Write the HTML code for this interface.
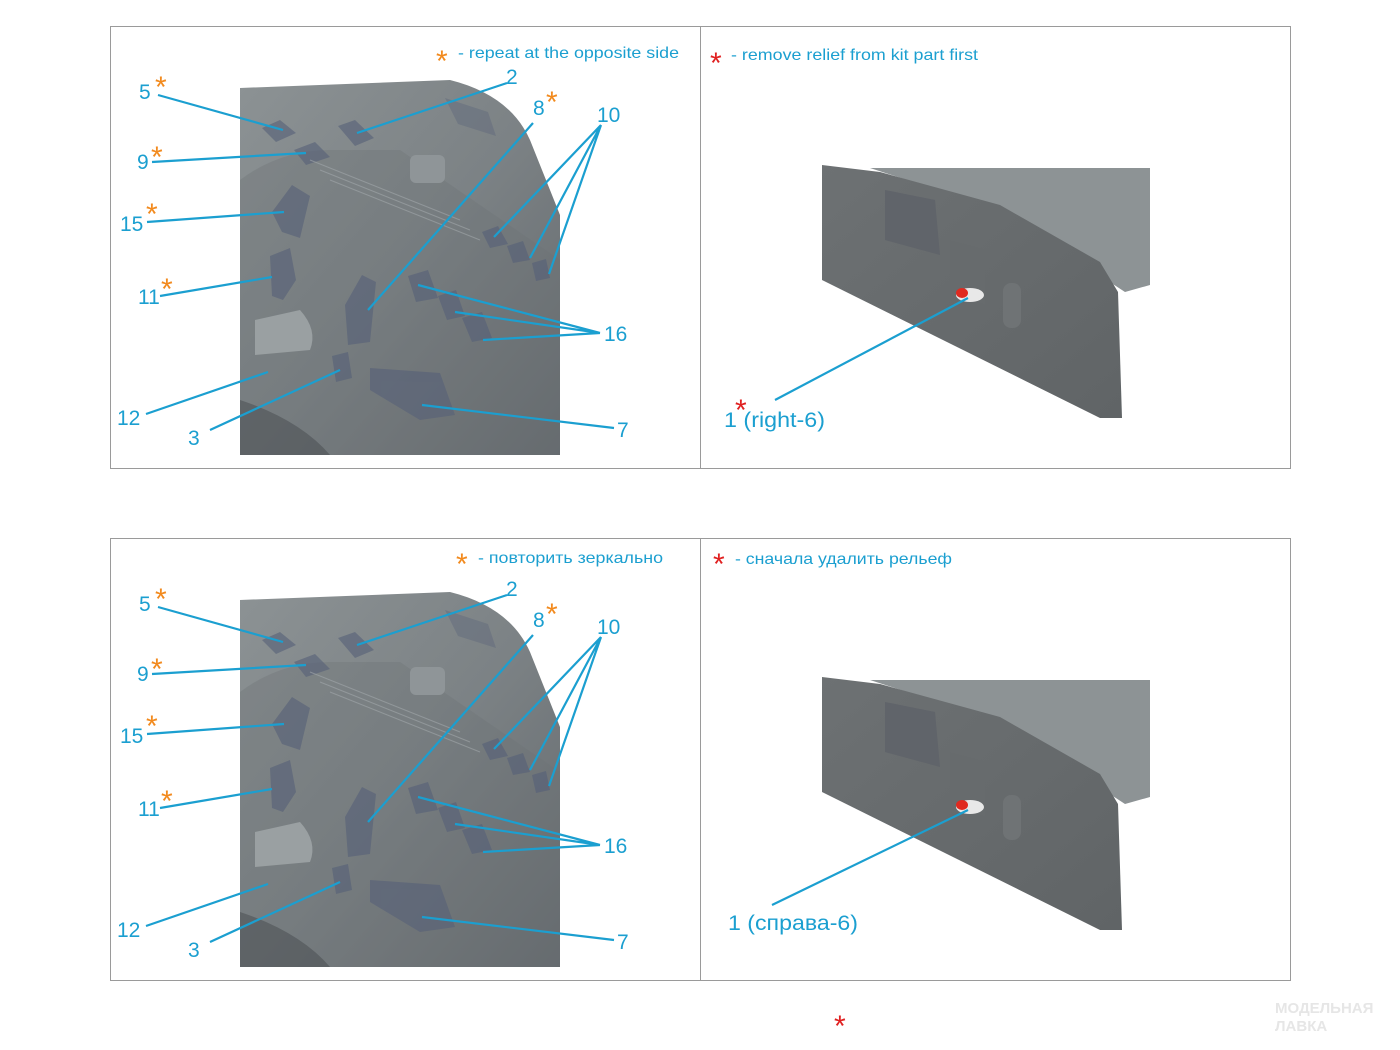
<!DOCTYPE html>
<html><head><meta charset="utf-8"><style>
html,body{margin:0;padding:0;background:#fff;}
svg{display:block;}
text{font-family:"Liberation Sans","DejaVu Sans",sans-serif;}
.n{fill:#1b9fd0;font-size:21px;}
.s{fill:#1b9fd0;font-size:16px;}
.o{fill:#f28a1e;font-size:30px;}
.r{fill:#e02020;font-size:30px;}
.l{stroke:#1b9fd0;stroke-width:2.2;fill:none;}
</style></head><body>
<svg width="1400" height="1050" viewBox="0 0 1400 1050" xmlns="http://www.w3.org/2000/svg">
<defs>
<linearGradient id="gl" x1="0" y1="0" x2="1" y2="1">
<stop offset="0" stop-color="#8c9294"/><stop offset="0.5" stop-color="#7c8285"/><stop offset="1" stop-color="#63686c"/>
</linearGradient>
<linearGradient id="gr" x1="0" y1="0" x2="1" y2="1">
<stop offset="0" stop-color="#6d7173"/><stop offset="1" stop-color="#606466"/>
</linearGradient>
<g id="pl">
<path d="M240,88 L450,80 Q510,95 530,140 Q550,190 560,215 L560,455 L240,455 Z" fill="url(#gl)"/>
<path d="M240,180 Q280,150 330,150 L400,150 L560,260 L560,455 L240,455Z" fill="#6c7275" opacity="0.35"/>
<path d="M240,400 Q300,420 330,455 L240,455Z" fill="#454a4e" opacity="0.5"/>
<path d="M255,320 L300,310 Q318,330 310,350 L255,355 Z" fill="#9aa0a2"/>
<rect x="410" y="155" width="35" height="28" rx="6" fill="#8f9598"/>
<g fill="#566078" opacity="0.6">
<path d="M262,128 L280,120 L296,133 L276,142Z"/>
<path d="M338,126 L355,120 L374,138 L355,146Z"/>
<path d="M294,150 L315,142 L330,157 L306,165Z"/>
<path d="M272,212 L292,185 L310,196 L300,238 L282,232Z"/>
<path d="M270,256 L290,248 L296,280 L283,300 L272,296Z"/>
<path d="M345,305 L362,275 L376,282 L370,342 L348,345Z"/>
<path d="M482,232 L498,226 L508,244 L490,248Z"/>
<path d="M507,246 L523,241 L530,260 L513,263Z"/>
<path d="M532,263 L546,259 L550,278 L536,281Z"/>
<path d="M370,368 L440,373 L455,415 L420,420 L370,390Z"/>
<path d="M332,356 L348,352 L352,378 L336,382Z"/>
<path d="M408,276 L428,270 L438,298 L416,302Z"/>
<path d="M438,296 L456,290 L465,316 L447,320Z"/>
<path d="M462,318 L482,312 L492,338 L472,342Z"/>
<path d="M445,98 L488,112 L496,136 L458,124Z" opacity="0.6"/>
</g>
<g stroke="#a2a8ab" stroke-width="1" opacity="0.6">
<path d="M320,170 L470,230 M330,180 L480,240 M310,160 L460,220"/>
</g>
</g>
<g id="pr">
<path d="M870,168 L1150,168 L1150,285 L1125,292 L1000,210 Z" fill="#8d9395"/>
<path d="M822,165 L880,172 L1000,205 L1100,262 L1118,292 L1122,418 L1100,418 L822,280 Z" fill="url(#gr)"/>
<path d="M885,190 L935,200 L940,255 L885,240Z" fill="#60646a"/>
<path d="M950,240 L985,250 L985,305 L950,290Z" fill="#676b6d"/>
<ellipse cx="970" cy="295" rx="14" ry="7" fill="#e8e8e8"/>
<ellipse cx="962" cy="293" rx="6" ry="5" fill="#e02a20"/>
<rect x="1003" y="283" width="18" height="45" rx="8" fill="#6f7375"/>
</g>
</defs>

<rect x="110.5" y="26.5" width="1180" height="442" fill="none" stroke="#9a9a9a" stroke-width="1"/>
<line x1="700.5" y1="26" x2="700.5" y2="468" stroke="#9a9a9a"/>
<rect x="110.5" y="538.5" width="1180" height="442" fill="none" stroke="#9a9a9a" stroke-width="1"/>
<line x1="700.5" y1="538" x2="700.5" y2="980" stroke="#9a9a9a"/>

<use href="#pl"/><use href="#pr"/>
<use href="#pl" y="512"/><use href="#pr" y="512"/>

<g>
<path class="l" d="M158,95 L283,130 M507,83 L357,133 M533,123 L368,310 M601,125 L494,237 M601,125 L530,258 M601,125 L549,274 M152,162 L306,153 M147,222 L284,212 M160,296 L272,277 M600,333 L418,285 M600,333 L455,312 M600,333 L483,340 M146,414 L268,372 M210,430 L340,370 M614,428 L422,405"/>
</g>
<g transform="translate(0,512)">
<path class="l" d="M158,95 L283,130 M507,83 L357,133 M533,123 L368,310 M601,125 L494,237 M601,125 L530,258 M601,125 L549,274 M152,162 L306,153 M147,222 L284,212 M160,296 L272,277 M600,333 L418,285 M600,333 L455,312 M600,333 L483,340 M146,414 L268,372 M210,430 L340,370 M614,428 L422,405"/>
</g>
<path class="l" d="M775,400 L968,298"/>
<path class="l" d="M772,905 L968,810"/>

<g>
<text class="n" x="139" y="99">5</text><text class="o" x="155" y="97">*</text>
<text class="n" x="506" y="84">2</text>
<text class="n" x="533" y="115">8</text><text class="o" x="546" y="112">*</text>
<text class="n" x="597" y="122">10</text>
<text class="n" x="137" y="169">9</text><text class="o" x="151" y="167">*</text>
<text class="n" x="120" y="231">15</text><text class="o" x="146" y="224">*</text>
<text class="n" x="138" y="304">11</text><text class="o" x="161" y="299">*</text>
<text class="n" x="604" y="341">16</text>
<text class="n" x="117" y="425">12</text>
<text class="n" x="188" y="445">3</text>
<text class="n" x="617" y="437">7</text>
</g>
<g transform="translate(0,512)">
<text class="n" x="139" y="99">5</text><text class="o" x="155" y="97">*</text>
<text class="n" x="506" y="84">2</text>
<text class="n" x="533" y="115">8</text><text class="o" x="546" y="112">*</text>
<text class="n" x="597" y="122">10</text>
<text class="n" x="137" y="169">9</text><text class="o" x="151" y="167">*</text>
<text class="n" x="120" y="231">15</text><text class="o" x="146" y="224">*</text>
<text class="n" x="138" y="304">11</text><text class="o" x="161" y="299">*</text>
<text class="n" x="604" y="341">16</text>
<text class="n" x="117" y="425">12</text>
<text class="n" x="188" y="445">3</text>
<text class="n" x="617" y="437">7</text>
</g>

<text class="o" x="436" y="71">*</text><text class="s" x="458" y="58" textLength="221" lengthAdjust="spacingAndGlyphs">- repeat at the opposite side</text>
<text class="r" x="710" y="73">*</text><text class="s" x="731" y="60" textLength="247" lengthAdjust="spacingAndGlyphs">- remove relief from kit part first</text>
<text class="n" x="724" y="427" textLength="101" lengthAdjust="spacingAndGlyphs">1 (right-6)</text><text class="r" x="735" y="420">*</text>

<text class="o" x="456" y="574">*</text><text class="s" x="478" y="563" textLength="185" lengthAdjust="spacingAndGlyphs">- повторить зеркально</text>
<text class="r" x="713" y="574">*</text><text class="s" x="735" y="564" textLength="217" lengthAdjust="spacingAndGlyphs">- сначала удалить рельеф</text>
<text class="n" x="728" y="930" textLength="130" lengthAdjust="spacingAndGlyphs">1 (справа-6)</text>
<text class="r" x="834" y="1036">*</text>
<text x="1275" y="1013" fill="#e6e6e6" font-size="15" font-weight="bold">МОДЕЛЬНАЯ</text>
<text x="1275" y="1031" fill="#e6e6e6" font-size="15" font-weight="bold">ЛАВКА</text>
</svg>
</body></html>
